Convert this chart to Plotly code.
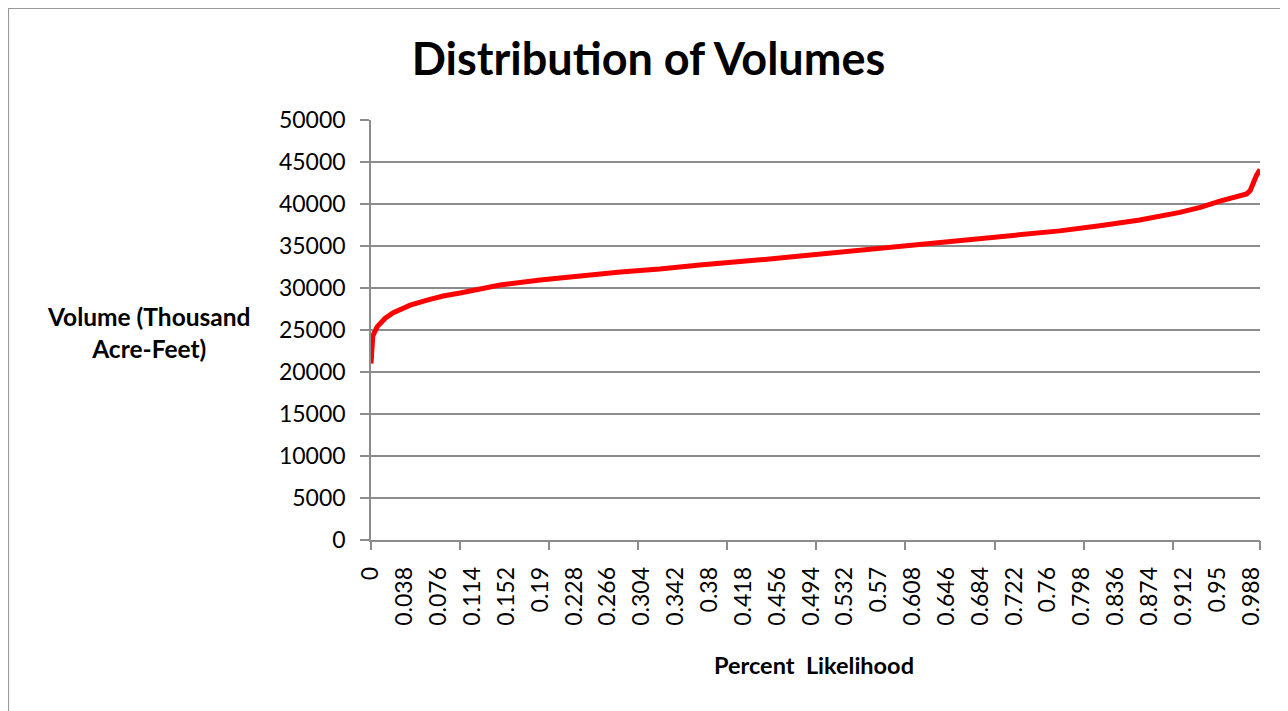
import plotly.graph_objects as go

# Values (cumulative probability vs. volume)
probability = [0.000, 0.002, 0.007, 0.016, 0.025, 0.044, 0.063, 0.081, 0.100, 0.119,
               0.145, 0.190, 0.235, 0.280, 0.324, 0.369, 0.437, 0.504, 0.571, 0.639,
               0.706, 0.773, 0.818, 0.863, 0.908, 0.931, 0.953, 0.976, 0.983, 0.987,
               0.990, 0.994, 0.998]
volume = [21000, 24300, 25400, 26400, 27050, 27950, 28550, 29050, 29400, 29750,
          30350, 30950, 31450, 31900, 32250, 32750, 33350, 34050, 34700, 35350,
          36100, 36800, 37400, 38100, 39000, 39600, 40350, 40950, 41200, 41600,
          42500, 43400, 44100]

x_tick_labels = ["0", "0.038", "0.076", "0.114", "0.152", "0.19", "0.228", "0.266",
                 "0.304", "0.342", "0.38", "0.418", "0.456", "0.494", "0.532", "0.57",
                 "0.608", "0.646", "0.684", "0.722", "0.76", "0.798", "0.836", "0.874",
                 "0.912", "0.95", "0.988"]
x_major_ticks = [0.0, 0.1, 0.2, 0.3, 0.4, 0.5, 0.6, 0.7, 0.8, 0.9, 0.998]
y_tick_labels = ["0", "5000", "10000", "15000", "20000", "25000", "30000",
                 "35000", "40000", "45000", "50000"]

FONT = "Lato, Open Sans, sans-serif"
GRID = "#8c8c8c"
x_range = [0, 0.998]

fig = go.Figure()
fig.add_trace(go.Scatter(x=probability, y=volume, mode="lines",
                         line=dict(color="#ff0000", width=5),
                         showlegend=False, hoverinfo="skip"))
# invisible trace to activate the overlay axis carrying the tick marks
fig.add_trace(go.Scatter(x=[x_range[0]], y=[0], xaxis="x2", mode="markers",
                         marker=dict(opacity=0), showlegend=False, hoverinfo="skip"))

# page is drawn with an 8px body offset; margins compensate for it
OFF = 8
fig.update_layout(
    width=1288, height=711,
    margin=dict(l=371 - OFF, r=28 + OFF, t=120 - OFF, b=171 + OFF),
    paper_bgcolor="white", plot_bgcolor="white",
    font=dict(family=FONT, color="#000000"),
    title=dict(text="<b>Distribution of Volumes</b>", font=dict(size=45, family=FONT, color="#000"),
               x=(648.5 - OFF) / 1288, xanchor="center", xref="container",
               y=1 - (59 - OFF) / 711, yanchor="middle", yref="container"),
    xaxis=dict(range=x_range, tickmode="array",
               tickvals=[float(t) for t in x_tick_labels], ticktext=x_tick_labels,
               tickangle=-90, ticks="", showgrid=False, zeroline=False,
               showline=True, linecolor=GRID, linewidth=1.5,
               tickfont=dict(size=23, family=FONT, color="#000"),
               ticklabelstandoff=16),
    xaxis2=dict(range=x_range, overlaying="x", side="bottom", anchor="y",
                tickmode="array", tickvals=x_major_ticks, ticks="outside",
                ticklen=9, tickwidth=1.5, tickcolor=GRID, showticklabels=False,
                showgrid=False, zeroline=False, showline=False),
    yaxis=dict(range=[0, 50000], tickmode="array",
               tickvals=[int(t) for t in y_tick_labels], ticktext=y_tick_labels,
               ticks="outside", ticklen=9, tickwidth=1.5, tickcolor=GRID,
               showgrid=True, gridcolor=GRID, gridwidth=1.5,
               zeroline=False, showline=True, linecolor=GRID, linewidth=1.5,
               tickfont=dict(size=23, family=FONT, color="#000"),
               ticklabelstandoff=10),
    annotations=[
        dict(text="<b>Volume (Thousand<br>Acre-Feet)</b>", xref="paper", yref="paper",
             x=(148 - 371) / 889, y=(540 - 332) / 420, xanchor="center", yanchor="middle",
             showarrow=False, align="center", font=dict(size=24.5, family=FONT, color="#000")),
        dict(text="<b>Percent  Likelihood</b>", xref="paper", yref="paper",
             x=(814 - 371) / 889, y=(540 - 665) / 420, xanchor="center", yanchor="middle",
             showarrow=False, font=dict(size=23.5, family=FONT, color="#000")),
    ],
    shapes=[dict(type="rect", xref="paper", yref="paper",
                 x0=(8.5 - 371) / 889, x1=(1320 - 371) / 889,
                 y0=(540 - 740) / 420, y1=(540 - 8.5) / 420,
                 line=dict(color="#9a9a9a", width=1.2), fillcolor="rgba(0,0,0,0)",
                 layer="below")],
)

fig.write_html("out.html")
